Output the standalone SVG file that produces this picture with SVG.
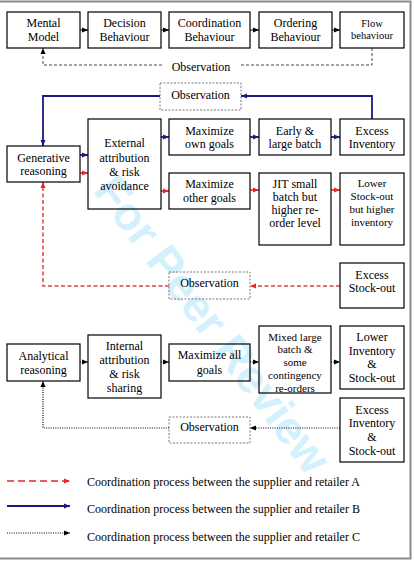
<svg xmlns="http://www.w3.org/2000/svg" width="414" height="563" viewBox="0 0 414 563">
<defs>
<style>
.box{fill:none;stroke:#000;stroke-width:1.2}
.obs{fill:none;stroke:#555;stroke-width:0.8;stroke-dasharray:2,1.5}
text{font-family:"Liberation Serif","Times New Roman",serif;font-size:12px;fill:#000;text-anchor:middle}
.sm{font-size:11px}
.xs{font-size:10.5px}
.leg{text-anchor:start}
.blk{fill:none;stroke:#000;stroke-width:1}
.dash{fill:none;stroke:#333;stroke-width:0.9;stroke-dasharray:3,2}
.blue{fill:none;stroke:#1a1a7e;stroke-width:1.8}
.red{fill:none;stroke:#e8262a;stroke-width:1.5}
.redd{fill:none;stroke:#e04040;stroke-width:1.5;stroke-dasharray:4,2.5}
.dot{fill:none;stroke:#000;stroke-width:1.2;stroke-dasharray:1,1.3}
.wm{font-family:"Liberation Sans",Arial,sans-serif;font-weight:bold;font-size:46px;fill:#d3f0fd;text-anchor:middle}
</style>
<marker id="ak" markerUnits="userSpaceOnUse" markerWidth="7" markerHeight="6" refX="6" refY="3" orient="auto"><path d="M0,0.5 L6,3 L0,5.5 Z" fill="#000"/></marker>
<marker id="ab" markerUnits="userSpaceOnUse" markerWidth="7" markerHeight="6" refX="6" refY="3" orient="auto"><path d="M0,0.5 L6,3 L0,5.5 Z" fill="#1a1a7e"/></marker>
<marker id="ar" markerUnits="userSpaceOnUse" markerWidth="7" markerHeight="6" refX="6" refY="3" orient="auto"><path d="M0,0.5 L6,3 L0,5.5 Z" fill="#e8262a"/></marker>
</defs>
<rect x="0" y="0" width="414" height="563" fill="#fff"/>
<text class="wm" x="212" y="340" transform="rotate(53 212 325)">For Peer Review</text>
<path d="M-2,1.5 H410.5 V558.5 H-2" fill="none" stroke="#8a8a8a" stroke-width="2"/>

<g id="connectors">
<path class="blk" marker-end="url(#ak)" d="M80,30 H88"/>
<path class="blk" marker-end="url(#ak)" d="M161,30 H169"/>
<path class="blk" marker-end="url(#ak)" d="M250,30 H259"/>
<path class="blk" marker-end="url(#ak)" d="M332,30 H340"/>
<path class="dash" d="M372,48 V65 H240"/>
<path class="dash" marker-end="url(#ak)" d="M162,65 H43 V48"/>
<path class="blue" marker-end="url(#ab)" d="M372,119 V96 H241"/>
<path class="blue" marker-end="url(#ab)" d="M160,96 H43 V146"/>
<path class="blue" marker-end="url(#ab)" d="M80,155 H88"/>
<path class="blue" marker-end="url(#ab)" d="M161,137 H169"/>
<path class="blue" marker-end="url(#ab)" d="M250,137 H259"/>
<path class="blue" marker-end="url(#ab)" d="M331,137 H340"/>
<path class="red" marker-end="url(#ar)" d="M80,173 H88"/>
<path class="red" marker-end="url(#ar)" d="M161,191 H169"/>
<path class="red" marker-end="url(#ar)" d="M250,190 H259"/>
<path class="red" marker-end="url(#ar)" d="M331,190 H340"/>
<path class="redd" marker-end="url(#ar)" d="M340,286 H250"/>
<path class="redd" marker-end="url(#ar)" d="M169,286 H43 V182"/>
<path class="dot" marker-end="url(#ak)" d="M80,362 H88"/>
<path class="dot" marker-end="url(#ak)" d="M161,362 H169"/>
<path class="dot" marker-end="url(#ak)" d="M250,362 H259"/>
<path class="dot" marker-end="url(#ak)" d="M331,362 H340"/>
<path class="dot" marker-end="url(#ak)" d="M340,428 H250"/>
<path class="dot" marker-end="url(#ak)" d="M169,428 H43 V381"/>
<text x="201" y="71">Observation</text>
</g>

<g id="mental"><rect class="box" x="7" y="12" width="73" height="36"/><text x="43.5" y="27">Mental</text><text x="43.5" y="41">Model</text></g>
<g id="decision"><rect class="box" x="88" y="12" width="73" height="36"/><text x="124.5" y="27">Decision</text><text x="124.5" y="41">Behaviour</text></g>
<g id="coordination"><rect class="box" x="169" y="12" width="81" height="36"/><text x="209.5" y="27">Coordination</text><text x="209.5" y="41">Behaviour</text></g>
<g id="ordering"><rect class="box" x="259" y="12" width="73" height="36"/><text x="295.5" y="27">Ordering</text><text x="295.5" y="41">Behaviour</text></g>
<g id="flow"><rect class="box" x="340" y="12" width="64" height="36"/><text class="xs" x="372" y="27">Flow</text><text class="xs" x="372" y="39">behaviour</text></g>

<g id="obsB"><rect class="obs" x="160" y="83" width="81" height="27"/><text x="200.5" y="99">Observation</text></g>
<g id="generative"><rect class="box" x="7" y="146" width="73" height="36"/><text x="43.5" y="162">Generative</text><text x="43.5" y="175">reasoning</text></g>
<g id="external"><rect class="box" x="88" y="119" width="73" height="90"/><text x="124.5" y="147">External</text><text x="124.5" y="162">attribution</text><text x="124.5" y="176">&amp; risk</text><text x="124.5" y="190">avoidance</text></g>
<g id="maxown"><rect class="box" x="169" y="119" width="81" height="36"/><text x="209.5" y="135">Maximize</text><text x="209.5" y="148">own goals</text></g>
<g id="early"><rect class="box" x="259" y="119" width="72" height="36"/><text x="295" y="135">Early &amp;</text><text x="295" y="148">large batch</text></g>
<g id="excessinv"><rect class="box" x="340" y="119" width="64" height="36"/><text x="372" y="135">Excess</text><text x="372" y="148">Inventory</text></g>
<g id="maxother"><rect class="box" x="169" y="173" width="81" height="36"/><text x="209.5" y="188">Maximize</text><text x="209.5" y="202">other goals</text></g>
<g id="jit"><rect class="box" x="259" y="173" width="72" height="72"/><text x="295" y="187.5">JIT small</text><text x="295" y="200.5">batch but</text><text x="295" y="214">higher re-</text><text x="295" y="227">order level</text></g>
<g id="lowerstock"><rect class="box" x="340" y="173" width="64" height="72"/><text class="sm" x="372" y="186.5">Lower</text><text class="sm" x="372" y="200">Stock-out</text><text class="sm" x="372" y="212.5">but higher</text><text class="sm" x="372" y="225.5">inventory</text></g>
<g id="obsA"><rect class="obs" x="169" y="272" width="81" height="27"/><text x="209.5" y="287">Observation</text></g>
<g id="excessstock"><rect class="box" x="340" y="263" width="64" height="45"/><text x="372" y="279">Excess</text><text x="372" y="292">Stock-out</text></g>

<g id="analytical"><rect class="box" x="7" y="344" width="73" height="37"/><text x="43.5" y="360">Analytical</text><text x="43.5" y="374">reasoning</text></g>
<g id="internal"><rect class="box" x="88" y="335" width="73" height="63"/><text x="124.5" y="350">Internal</text><text x="124.5" y="364">attribution</text><text x="124.5" y="378">&amp; risk</text><text x="124.5" y="392">sharing</text></g>
<g id="maxall"><rect class="box" x="169" y="344" width="81" height="37"/><text x="209.5" y="359">Maximize all</text><text x="209.5" y="374">goals</text></g>
<g id="mixed"><rect class="box" x="259" y="326" width="72" height="67"/><text class="sm" x="295" y="341">Mixed large</text><text class="sm" x="295" y="353">batch &amp;</text><text class="sm" x="295" y="366">some</text><text class="sm" x="295" y="379">contingency</text><text class="sm" x="295" y="392">re-orders</text></g>
<g id="lowerinv"><rect class="box" x="340" y="326" width="64" height="63"/><text x="372" y="341">Lower</text><text x="372" y="355">Inventory</text><text x="372" y="368">&amp;</text><text x="372" y="382">Stock-out</text></g>
<g id="excessboth"><rect class="box" x="340" y="398" width="64" height="64"/><text x="372" y="414">Excess</text><text x="372" y="427">Inventory</text><text x="372" y="441">&amp;</text><text x="372" y="455">Stock-out</text></g>
<g id="obsC"><rect class="obs" x="169" y="417" width="81" height="26"/><text x="209.5" y="431">Observation</text></g>

<g id="legend">
<path d="M7,481 H70" fill="none" stroke="#e8262a" stroke-width="1.5" stroke-dasharray="7,4" marker-end="url(#ar)"/>
<path class="blue" marker-end="url(#ab)" d="M7,506 H70"/>
<path class="dot" marker-end="url(#ak)" d="M7,533 H70"/>
<text class="leg" x="87" y="486">Coordination process between the supplier and retailer A</text>
<text class="leg" x="87" y="513">Coordination process between the supplier and retailer B</text>
<text class="leg" x="87" y="541">Coordination process between the supplier and retailer C</text>
</g>
</svg>
